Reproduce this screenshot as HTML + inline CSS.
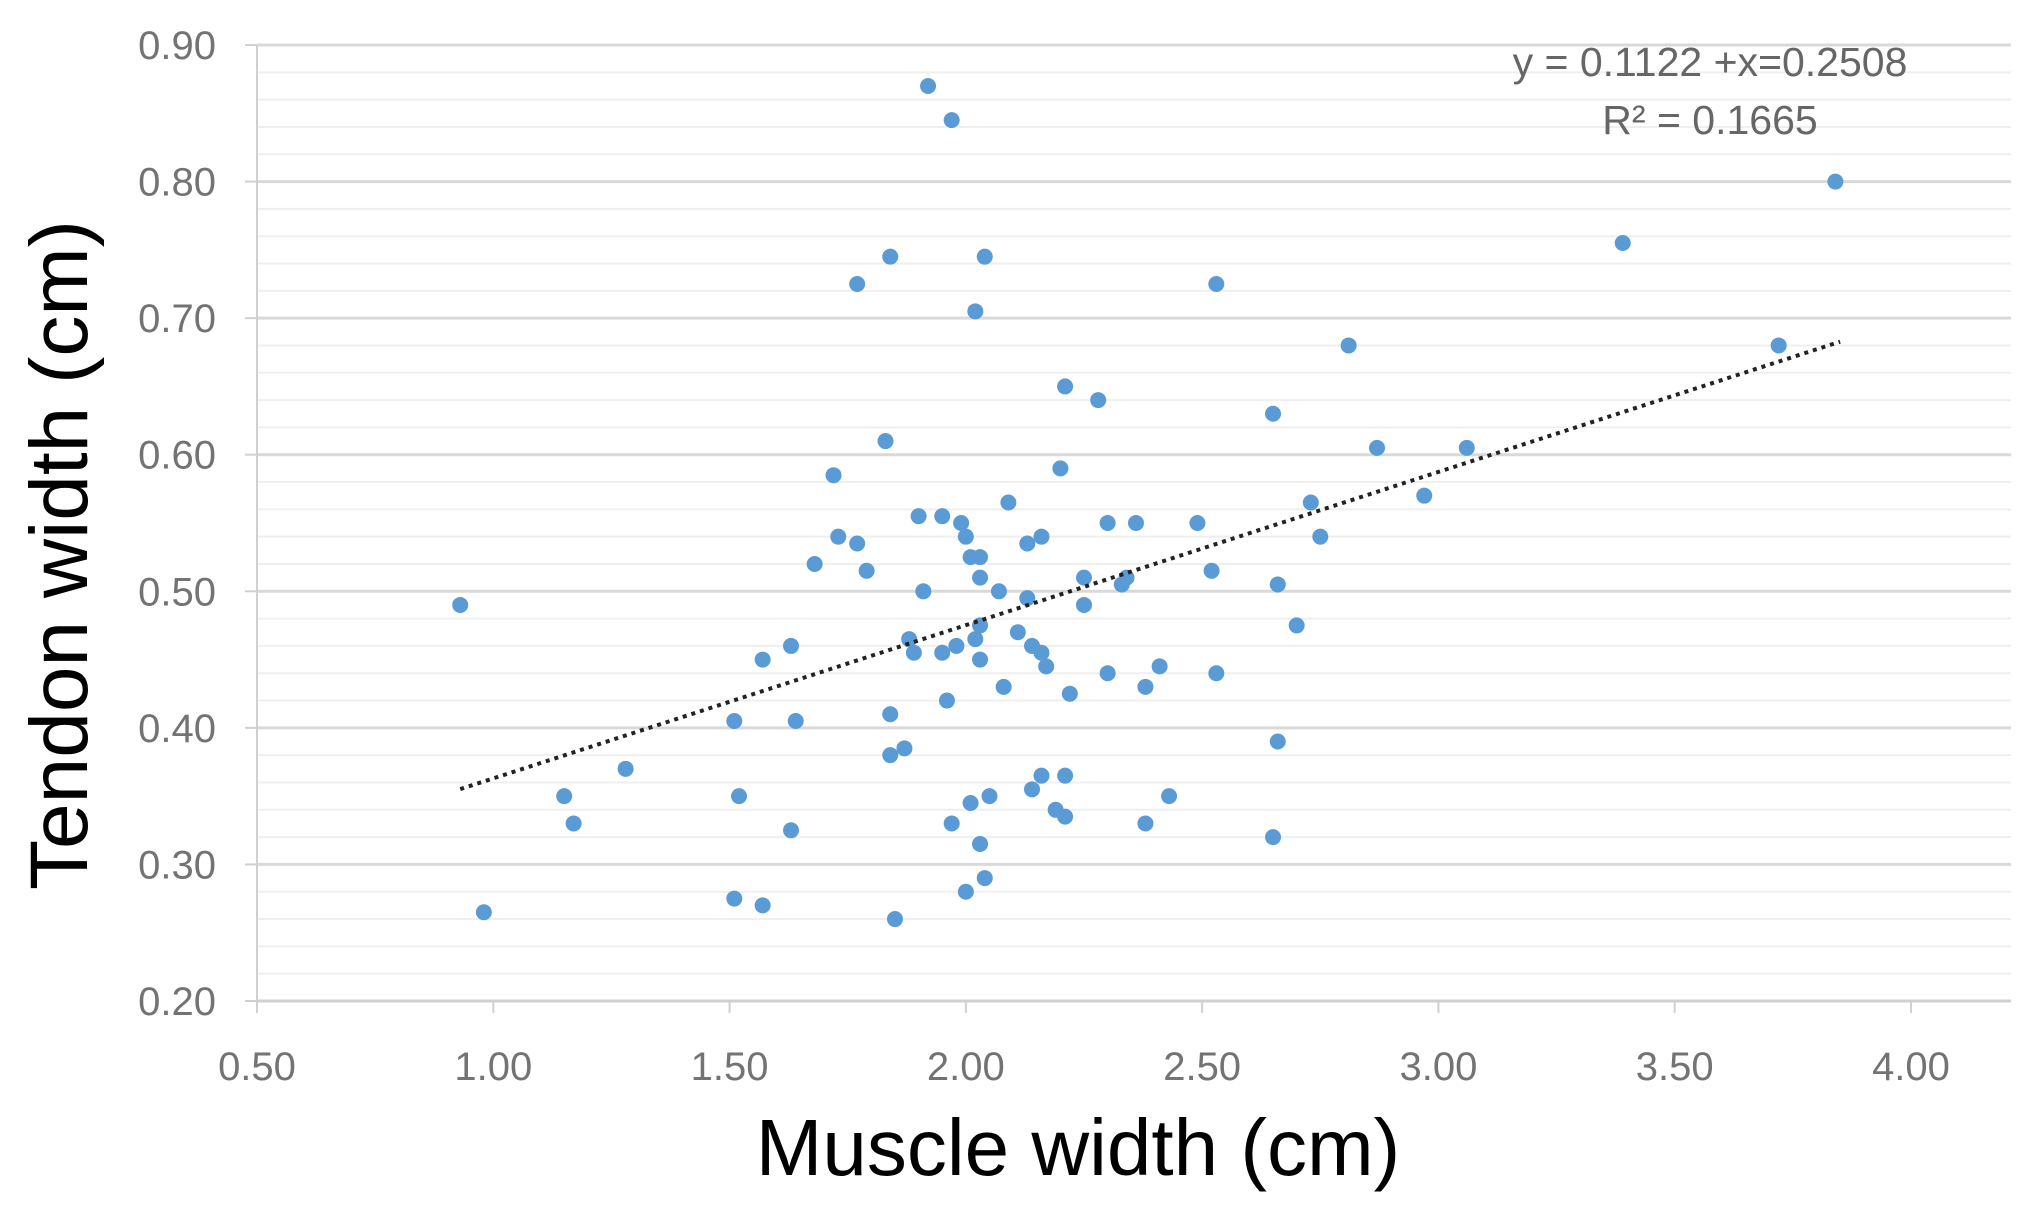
<!DOCTYPE html>
<html><head><meta charset="utf-8">
<style>
html,body{margin:0;padding:0;background:#fff;}
svg{display:block;}
</style></head>
<body>
<svg id="chart" width="2038" height="1207" viewBox="0 0 2038 1207" xmlns="http://www.w3.org/2000/svg" font-family="'Liberation Sans', sans-serif">
  <g id="grid"></g>
  <g id="axes"></g>
  <g id="points"></g>
  <g id="trend"></g>
  <text x="1710" y="76" text-anchor="middle" font-size="41" fill="#666">y = 0.1122 +x=0.2508</text>
  <text x="1710" y="134" text-anchor="middle" font-size="41" fill="#666">R² = 0.1665</text>
  <text x="1078" y="1175" text-anchor="middle" font-size="80" fill="#000">Muscle width (cm)</text>
  <text transform="translate(87,555) rotate(-90)" text-anchor="middle" font-size="82" fill="#000">Tendon width (cm)</text>
</svg>
<script>
const xVals = [0.93,0.98,1.15,1.17,1.28,1.51,1.52,1.51,1.57,1.57,1.63,1.64,1.63,1.68,1.72,1.73,1.77,1.77,1.79,1.84,1.83,1.84,1.84,1.85,1.87,1.88,1.89,1.90,1.91,1.92,1.95,1.95,1.96,1.97,1.97,1.98,1.99,2.00,2.00,2.01,2.01,2.02,2.02,2.03,2.03,2.03,2.03,2.03,2.04,2.04,2.05,2.07,2.08,2.09,2.11,2.13,2.13,2.14,2.14,2.16,2.16,2.16,2.17,2.19,2.20,2.21,2.21,2.21,2.22,2.25,2.25,2.28,2.30,2.30,2.33,2.34,2.36,2.38,2.38,2.41,2.43,2.49,2.52,2.53,2.53,2.65,2.65,2.66,2.66,2.70,2.73,2.75,2.81,2.87,2.97,3.06,3.39,3.72,3.84];
const yVals = [0.49,0.265,0.35,0.33,0.37,0.405,0.35,0.275,0.27,0.45,0.46,0.405,0.325,0.52,0.585,0.54,0.535,0.725,0.515,0.745,0.61,0.41,0.38,0.26,0.385,0.465,0.455,0.555,0.50,0.87,0.555,0.455,0.42,0.845,0.33,0.46,0.55,0.54,0.28,0.345,0.525,0.465,0.705,0.525,0.51,0.475,0.45,0.315,0.745,0.29,0.35,0.50,0.43,0.565,0.47,0.495,0.535,0.355,0.46,0.455,0.365,0.54,0.445,0.34,0.59,0.335,0.65,0.365,0.425,0.49,0.51,0.64,0.55,0.44,0.505,0.51,0.55,0.43,0.33,0.445,0.35,0.55,0.515,0.725,0.44,0.63,0.32,0.505,0.39,0.475,0.565,0.54,0.68,0.605,0.57,0.605,0.755,0.68,0.80];
const xTicks = ["0.50","1.00","1.50","2.00","2.50","3.00","3.50","4.00"];
const yTicks = ["0.20","0.30","0.40","0.50","0.60","0.70","0.80","0.90"];
const trendCoef = [0.1122, 0.2508];
const trendRange = [0.93, 3.85];

const NS = "http://www.w3.org/2000/svg";
const X0 = 257, X1 = 1911, PR = 2011, Y0 = 1001, Y1 = 45;
const sx = v => X0 + (v - 0.5) * (X1 - X0) / 3.5;
const sy = v => Y0 - (v - 0.2) * (Y0 - Y1) / 0.7;
function mk(tag, attrs, parent){const e=document.createElementNS(NS,tag);for(const k in attrs)e.setAttribute(k,attrs[k]);parent.appendChild(e);return e;}
const grid=document.getElementById('grid'), axes=document.getElementById('axes'), pts=document.getElementById('points'), trend=document.getElementById('trend');

for(let i=0;i<=35;i++){
  const v=0.2+i*0.02; const y=sy(v); const major=i%5===0;
  const l=mk('line',{x1:X0,x2:PR,y1:y,y2:y,stroke:major?'#d9d9d9':'#efefef','stroke-width':major?3:2},grid);
  
  
}
const ya=mk('line',{x1:X0,x2:X0,y1:Y1,y2:Y0,stroke:'#d0d0d0','stroke-width':2},axes);


const xa=mk('line',{x1:X0,x2:PR,y1:Y0,y2:Y0,stroke:'#d0d0d0','stroke-width':3},axes);



yTicks.forEach(t=>{
  const y=sy(parseFloat(t));
  const tk=mk('line',{x1:X0-12,x2:X0,y1:y,y2:y,stroke:'#d0d0d0','stroke-width':2},axes);
  
  
  const tx=mk('text',{x:216,y:y+14,'text-anchor':'end','font-size':40,fill:'#737373'},axes);
  tx.textContent=t;
  
  
});
xTicks.forEach(t=>{
  const x=sx(parseFloat(t));
  const tk=mk('line',{x1:x,x2:x,y1:Y0,y2:Y0+12,stroke:'#d0d0d0','stroke-width':2},axes);
  
  
  const tx=mk('text',{x:x,y:1080,'text-anchor':'middle','font-size':40,fill:'#737373'},axes);
  tx.textContent=t;
  
  
});

xVals.forEach((xv,i)=>{
  const c=mk('circle',{cx:sx(xv),cy:sy(yVals[i]),r:8,fill:'#5b9bd5'},pts);
  
  
});

const tl=mk('line',{x1:sx(trendRange[0]),y1:sy(trendCoef[0]*trendRange[0]+trendCoef[1]),x2:sx(trendRange[1]),y2:sy(trendCoef[0]*trendRange[1]+trendCoef[1]),stroke:'#222','stroke-width':4,'stroke-dasharray':'4 5'},trend);


</script>
</body></html>
